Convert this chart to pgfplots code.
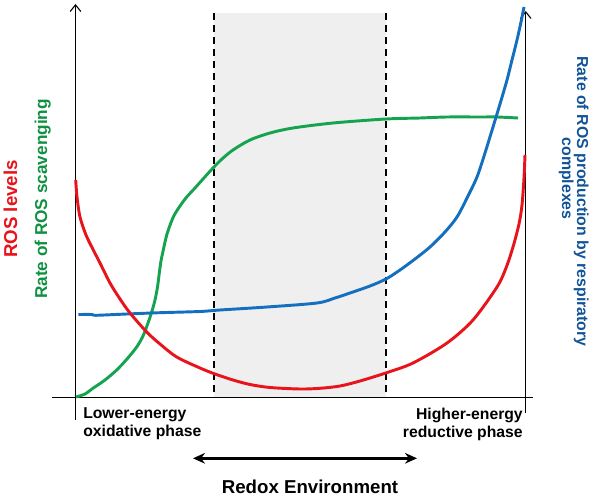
\documentclass[border=0pt]{standalone}
\usepackage{fontspec}
\setmainfont{Liberation Sans}
\usepackage{pgfplots}
\pgfplotsset{compat=1.18}
\usetikzlibrary{arrows.meta}

\definecolor{rosred}{RGB}{232,20,28}
\definecolor{rosgreen}{RGB}{22,163,80}
\definecolor{rosblue}{RGB}{20,112,190}
\definecolor{bluetext}{RGB}{18,84,152}
\definecolor{greentext}{RGB}{16,145,66}
\definecolor{shade}{RGB}{239,239,239}

\begin{document}
\begin{tikzpicture}
\begin{axis}[
    width=450pt, height=374.25pt,
    scale only axis,
    xmin=0, xmax=600,
    ymin=0, ymax=499,
    y dir=reverse,
    hide axis,
    clip=false,
]
\path (axis cs:0,0) rectangle (axis cs:600,499);

% shaded redox window
\addplot[draw=none, fill=shade] coordinates {
    (214,13) (386,13) (386,397) (214,397)
} -- cycle;
\addplot[black, line width=1.5pt, dash pattern=on 5pt off 4pt] coordinates {(213.5,13) (213.5,397)};
\addplot[black, line width=1.5pt, dash pattern=on 5pt off 4pt] coordinates {(386,13) (386,397)};

% axes
\draw[line width=0.8pt, -{Straight Barb[length=5pt,width=8pt]}] (axis cs:75.5,420) -- (axis cs:75.5,4);
\draw[line width=0.8pt] (axis cs:52,397.3) -- (axis cs:533,397.3);
\draw[line width=0.8pt, -{Straight Barb[length=5pt,width=8pt]}] (axis cs:525.7,413) -- (axis cs:525.7,11);

% ROS scavenging
\addplot[rosgreen, line width=2.2pt, smooth, tension=0.5] coordinates {
    (76,397) (85,394) (93.3,388) (105,380) (116.7,370) (127,359)
    (136.7,347) (143,336) (148,323) (152,311) (155,300) (157.5,287)
    (159.3,273) (161,261) (163.3,250) (167,234) (173.3,217) (180,206)
    (186.7,197) (195,188) (203,179) (213,168) (222,159) (233,150)
    (250,140) (270,133) (293,128) (333,123) (386,119) (420,118)
    (447,117) (480,117) (497,117) (518,118)
};

% ROS production
\addplot[rosblue, line width=2.2pt, smooth, tension=0.5] coordinates {
    (78.3,314.5) (92,314.5) (96,315.3) (126.7,314) (160,312.7) (200,311.5)
    (220,310) (267,307) (317,303) (335,298) (350,293) (370,286)
    (386,279) (400,270) (415,259) (430,247) (445,232) (457,217)
    (467,198) (477,177) (485,153) (493,127) (500,104) (507,80)
    (512,60) (517,40) (521,22) (524,7)
};

% ROS levels
\addplot[rosred, line width=2.2pt, smooth, tension=0.5] coordinates {
    (75.7,180) (77,197) (80,217) (86,235) (93.3,250) (100,263)
    (110,283) (120,299) (130,313) (146.7,332) (160,344) (176.7,357)
    (200,368) (215,374) (233,380) (250,384.5) (270,387.5) (300,389)
    (320,388.3) (340,386) (360,381) (385.7,373) (413,363) (447,343)
    (473,320) (497,287) (506,268) (513,247) (519,224) (522,205)
    (524,178) (525,155)
};

% redox environment arrow
\draw[line width=2.2pt, {Stealth[length=9pt,width=8pt]}-{Stealth[length=9pt,width=8pt]}]
    (axis cs:193,458.3) -- (axis cs:417,458.3);

% texts
\node[anchor=west, align=left, inner sep=0pt, font=\bfseries\fontsize{11.8}{13.5}\selectfont]
    at (axis cs:83,424) {Lower-energy\\oxidative phase};
\node[anchor=east, align=right, inner sep=0pt, font=\bfseries\fontsize{11.8}{13.5}\selectfont]
    at (axis cs:523,424) {Higher-energy\\reductive phase};
\node[anchor=base, inner sep=0pt, font=\bfseries\fontsize{14}{16}\selectfont]
    at (axis cs:310,493) {Redox Environment};

\node[anchor=base, rotate=90, inner sep=0pt, text=rosred, font=\bfseries\fontsize{14}{16}\selectfont]
    at (axis cs:17,209) {ROS levels};
\node[anchor=base, rotate=90, inner sep=0pt, text=greentext, font=\bfseries\fontsize{12.9}{15}\selectfont]
    at (axis cs:47,199) {Rate of ROS scavenging};
\node[anchor=base, rotate=-90, inner sep=0pt, text=bluetext, font=\bfseries\fontsize{11.9}{14}\selectfont]
    at (axis cs:577,201.5) {Rate of ROS production by respiratory};
\node[anchor=base, rotate=-90, inner sep=0pt, text=bluetext, font=\bfseries\fontsize{11.9}{14}\selectfont]
    at (axis cs:562,178.5) {complexes};
\end{axis}
\end{tikzpicture}
\end{document}
